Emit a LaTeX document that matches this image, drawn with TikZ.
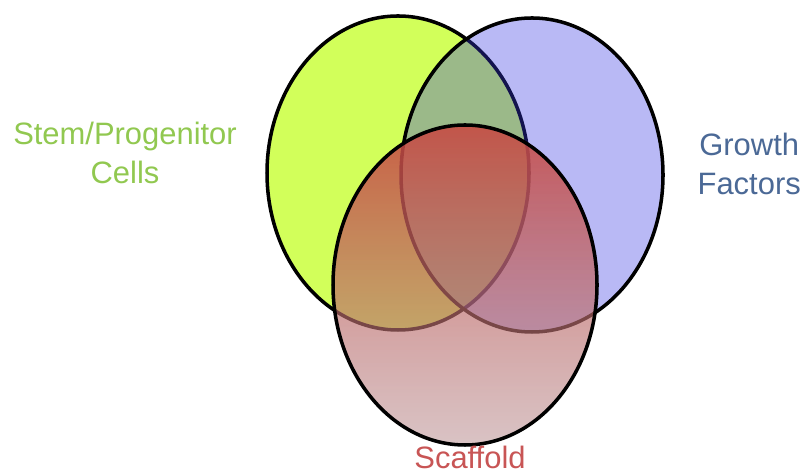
\documentclass[tikz,border=0pt]{standalone}
\usepackage{fontspec}
\setmainfont{Liberation Sans}
\usepackage{xcolor}
\usepackage{tikz}
\usetikzlibrary{calc,fadings}
\definecolor{stemfill}{RGB}{210,255,90}
\definecolor{growthfill}{RGB}{55,55,225}
\definecolor{scafftop}{RGB}{200,72,66}
\definecolor{scaffmid}{RGB}{182,75,52}
\definecolor{scaffbot}{RGB}{180,135,138}
\definecolor{stemtext}{RGB}{145,200,80}
\definecolor{growthtext}{RGB}{75,105,150}
\definecolor{scafftext}{RGB}{200,85,85}
\tikzfading[name=scafffade,
  top color=transparent!12,
  middle color=transparent!50,
  bottom color=transparent!50]
\tikzset{
  venn/.style={
    draw=black,
    line width=2.5pt,
  },
  vennlabel/.style={
    align=center,
    inner sep=0pt,
    font=\fontsize{22}{28}\selectfont
  }
}

\begin{document}
\begin{tikzpicture}
    \useasboundingbox (0,0) rectangle (20.1,11.875);
    \coordinate (stem) at (9.95,7.55);
    \coordinate (growth) at (13.3,7.5);
    \coordinate (scaffold) at (11.625,4.75);
    % the three sets
    \filldraw[venn, fill=stemfill] (stem) ellipse (3.275 and 3.925);
    \filldraw[venn, fill=growthfill, fill opacity=0.35] (growth) ellipse (3.275 and 3.925);
    \shade[top color=scafftop, middle color=scaffmid, bottom color=scaffbot, path fading=scafffade] (scaffold) ellipse (3.3 and 4.0);
    \draw[venn] (scaffold) ellipse (3.3 and 4.0);
    % labels
    \node[vennlabel, text=stemtext] (stemlabel) at (3.125,8.05) {Stem/Progenitor\\Cells};
    \node[vennlabel, text=growthtext] (growthlabel) at (18.73,7.78) {Growth\\Factors};
    \node[vennlabel, text=scafftext, anchor=base] (scafflabel) at (11.75,0.15) {Scaffold};
\end{tikzpicture}
\end{document}
